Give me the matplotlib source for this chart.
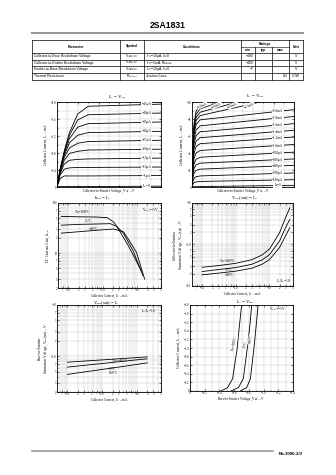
import numpy as np
import matplotlib.pyplot as plt
from matplotlib.ticker import MultipleLocator, FixedLocator, FuncFormatter, NullFormatter

plt.rcParams['font.family'] = ['Liberation Serif', 'DejaVu Serif']
plt.rcParams['mathtext.fontset'] = 'stix'

W, H = 336, 475
SANS = ['Liberation Sans', 'DejaVu Sans']

# ---------------- header table ----------------
title = "2SA1831"
params = ["Collector-to-Base Breakdown Voltage", "Collector-to-Emitter Breakdown Voltage",
          "Emitter-to-Base Breakdown Voltage", "Thermal Resistance"]
symbols = ["V$_{(BR)CBO}$", "V$_{(BR)CEO}$", "V$_{(BR)EBO}$", "R$_{th(j-c)}$"]
conds = ["I$_C$=−10μA, I$_E$=0", "I$_C$=−1mA, R$_{BE}$=∞", "I$_E$=−10μA, I$_C$=0", "Junction-Case"]
r_min = ["−400", "−400", "−7", ""]
r_typ = ["", "", "", ""]
r_max = ["", "", "", "8.3"]
units = ["V", "V", "V", "°C/W"]
footer = "No.3090-2/3"

# ---------------- IC - VCE (small) ----------------
vce1 = [0, 0.3, 0.7, 1.2, 2.0, 3.0, 10]
ic1_curves = [
    [0, 0.42, 0.85, 1.28, 1.72, 1.90, 1.95],
    [0, 0.41, 0.82, 1.22, 1.58, 1.70, 1.74],
    [0, 0.40, 0.79, 1.14, 1.41, 1.49, 1.53],
    [0, 0.39, 0.75, 1.04, 1.22, 1.28, 1.31],
    [0, 0.37, 0.70, 0.92, 1.03, 1.07, 1.10],
    [0, 0.35, 0.63, 0.79, 0.84, 0.87, 0.89],
    [0, 0.32, 0.54, 0.63, 0.65, 0.66, 0.68],
    [0, 0.28, 0.42, 0.45, 0.46, 0.46, 0.47],
    [0, 0.20, 0.26, 0.26, 0.26, 0.26, 0.27],
    [0, 0.01, 0.01, 0.01, 0.01, 0.01, 0.02],
]
ib1_labels = ["−45μA", "−40μA", "−35μA", "−30μA", "−25μA", "−20μA",
              "−15μA", "−10μA", "−5μA", "I$_B$=0"]

# ---------------- IC - VCE (large) ----------------
vce2 = [0, 0.5, 1, 2, 4, 10, 20, 35, 50]
ic2_top = [
    [0, 5.28, 7.49, 8.93, 9.6, 10.24, 11.3, 12.9, 14.5],
    [0, 5.06, 7.18, 8.56, 9.2, 9.69, 10.52, 11.76, 13.0],
    [0, 4.84, 6.86, 8.18, 8.8, 9.19, 9.84, 10.82, 11.8],
    [0, 4.62, 6.55, 7.81, 8.4, 8.73, 9.27, 10.09, 10.9],
]
ib2_top_labels = ["−5.0mA", "−4.0mA", "−3.0mA", "−2.5mA"]
ic2_curves = [
    [0, 4.35, 6.16, 7.35, 7.9, 8.06, 8.32, 8.71, 9.1],
    [0, 3.96, 5.62, 6.70, 7.2, 7.34, 7.58, 7.94, 8.3],
    [0, 3.58, 5.07, 6.05, 6.5, 6.62, 6.83, 7.14, 7.45],
    [0, 3.19, 4.52, 5.39, 5.8, 5.91, 6.10, 6.39, 6.67],
    [0, 2.81, 3.98, 4.74, 5.1, 5.20, 5.37, 5.63, 5.88],
    [0, 2.37, 3.35, 4.00, 4.3, 4.39, 4.54, 4.77, 5.0],
    [0, 1.93, 2.73, 3.26, 3.5, 3.58, 3.71, 3.90, 4.1],
    [0, 1.54, 2.18, 2.60, 2.8, 2.87, 2.97, 3.14, 3.3],
    [0, 1.16, 1.64, 1.95, 2.1, 2.16, 2.26, 2.40, 2.55],
    [0, 0.72, 1.01, 1.21, 1.3, 1.35, 1.42, 1.54, 1.65],
    [0, 0.36, 0.51, 0.60, 0.65, 0.68, 0.72, 0.79, 0.86],
    [0, 0.02, 0.03, 0.04, 0.05, 0.07, 0.10, 0.15, 0.2],
]
ib2_labels = ["−2.0mA", "−1.8mA", "−1.6mA", "−1.4mA", "−1.2mA", "−1.0mA",
              "−800μA", "−600μA", "−400μA", "−200μA", "−100μA", "I$_B$=0"]

# ---------------- hFE - IC ----------------
hfe_ic_100 = [0.062, 0.21, 0.62, 1.34, 2.08, 2.89, 5.58, 13.4]
hfe_100 = [54, 53, 52.5, 51, 42, 30, 14, 4.4]
hfe_ic_25 = [0.062, 0.21, 0.62, 1.67, 2.59, 4.0, 7.75, 15.0]
hfe_25 = [36, 37.4, 38, 38.6, 34, 25, 11, 3.5]
hfe_ic_m40 = [0.062, 0.21, 0.62, 2.08, 4.0, 5.58, 9.66, 16.7]
hfe_m40 = [25, 26.7, 28.4, 30.2, 26.7, 19, 10.3, 3.0]

# ---------------- VCE(sat) - IC ----------------
sat_ic = [0.1, 0.3, 1, 3, 6, 10, 20, 30, 40]
vcesat_100 = [0.283, 0.310, 0.352, 0.431, 0.557, 0.775, 1.93, 4.4, 7.6]
vcesat_25 = [0.223, 0.249, 0.278, 0.334, 0.424, 0.567, 1.22, 2.54, 4.01]
vcesat_m40 = [0.186, 0.204, 0.228, 0.268, 0.334, 0.431, 0.848, 1.61, 2.54]

# ---------------- VBE(sat) - IC ----------------
vbe_ic = [0.1, 1, 10, 20]
vbesat_m40 = [0.765, 0.847, 0.94, 0.97]
vbesat_25 = [0.613, 0.72, 0.85, 0.888]
vbesat_100 = [0.442, 0.552, 0.69, 0.743]

# ---------------- IC - VBE ----------------
vbe_100 = [0.42, 0.511, 0.579, 0.638, 0.670, 0.702]
vbe_25 = [0.556, 0.657, 0.725, 0.775, 0.812, 0.839]
vbe_m40 = [0.684, 0.771, 0.821, 0.866, 0.898, 0.926]
icb = [0, 0.078, 0.288, 0.949, 1.494, 2.0]

log_x_ticks = [0.07, 0.1, 0.2, 0.3, 0.5, 0.7, 1, 2, 3, 5, 7, 10, 20, 30, 50]
log_x_labels = ["7", "−0.1", "2", "3", "5", "7", "−1.0", "2", "3", "5", "7", "−10", "2", "3", "5"]


def box(l, t, r, b):
    return [l / W, 1 - b / H, (r - l) / W, (b - t) / H]


def neg(fmt):
    return FuncFormatter(lambda v, p: "0" if abs(v) < 1e-9 else "−" + format(v, fmt))


def style(ax):
    for s in ax.spines.values():
        s.set_linewidth(0.6)
    ax.tick_params(which='both', direction='in', length=1.2, width=0.4,
                   labelsize=2.2, pad=0.3, top=True, right=True)
    ax.tick_params(which='minor', length=0.7)
    ax.grid(which='both', color='#b4b4b4', lw=0.25)
    ax.set_axisbelow(True)


def lab(ax, x, y, s, rot=0, size=2.6):
    ax.text(x, y, s, fontsize=size, ha='center', va='center', rotation=rot,
            bbox=dict(fc='white', ec='none', pad=0.2))


def note(ax, x, y, s):
    ax.text(x, y, s, transform=ax.transAxes, fontsize=2.6, ha='center', va='center')


def labels(ax, xl, yl):
    ax.set_xlabel(xl, fontsize=2.4, labelpad=0.4)
    ax.set_ylabel(yl, fontsize=2.7, labelpad=0.6)


fig = plt.figure(figsize=(W / 100, H / 100), dpi=100)

# overlay for page elements
ov = fig.add_axes([0, 0, 1, 1])
ov.set_xlim(0, W)
ov.set_ylim(H, 0)
ov.axis('off')
ov.text(168, 26, title, fontsize=6.2, fontweight='bold', ha='center', va='center', family=SANS)
ov.plot([32, 303], [32.5, 32.5], color='#9a9a9a', lw=1.5)

cols = [32, 120, 144, 241, 255, 272, 289, 303]
rows = [40, 53, 59.5, 66, 72.5, 79.5]
for y in rows:
    ov.plot([32, 303], [y, y], color='k', lw=0.5)
ov.plot([241, 289], [47, 47], color='k', lw=0.4)
for x in cols:
    top = 47 if x in (255, 272) else 40
    ov.plot([x, x], [top, 79.5], color='k', lw=0.5)
fs = 2.4
hd = dict(fontsize=fs, ha='center', va='center', family=SANS, fontweight='bold')
ov.text(76, 46.5, "Parameter", **hd)
ov.text(132, 46.5, "Symbol", **hd)
ov.text(192, 46.5, "Conditions", **hd)
ov.text(265, 43.5, "Ratings", **hd)
ov.text(296, 46.5, "Unit", **hd)
for x, s in zip([248, 263.5, 280.5], ["min", "typ", "max"]):
    ov.text(x, 50, s, **hd)
for i in range(len(params)):
    yc = (rows[i + 1] + rows[i + 2]) / 2
    ov.text(34, yc, params[i], fontsize=fs, va='center', family=SANS)
    ov.text(132, yc, symbols[i], fontsize=fs, ha='center', va='center', family=SANS)
    ov.text(146, yc, conds[i], fontsize=fs, va='center', family=SANS)
    ov.text(254, yc, r_min[i], fontsize=fs, ha='right', va='center', family=SANS)
    ov.text(271, yc, r_typ[i], fontsize=fs, ha='right', va='center', family=SANS)
    ov.text(288, yc, r_max[i], fontsize=fs, ha='right', va='center', family=SANS)
    ov.text(296, yc, units[i], fontsize=fs, ha='center', va='center', family=SANS)

ov.plot([32, 273], [450.5, 450.5], color='#9a9a9a', lw=1.2)
ov.text(303, 454, footer, fontsize=3.2, ha='right', va='center', family=SANS, fontweight='bold')

tfs = 3.4

# chart 1
ax = fig.add_axes(box(57, 102, 161, 187))
style(ax)
for c in ic1_curves:
    ax.plot(vce1, c, color='k', lw=0.6)
ax.set_xlim(0, 10)
ax.set_ylim(0, 2.0)
ax.xaxis.set_major_locator(MultipleLocator(2))
ax.xaxis.set_minor_locator(MultipleLocator(1))
ax.yaxis.set_major_locator(MultipleLocator(0.4))
ax.yaxis.set_minor_locator(MultipleLocator(0.2))
ax.tick_params(axis='x', labelbottom=False)
ax.yaxis.set_major_formatter(neg('.1f'))
for c, s in zip(ic1_curves, ib1_labels):
    lab(ax, 8.6, c[-1], s)
labels(ax, "Collector-to-Emitter Voltage, V$_{CE}$ – V", "Collector Current, I$_C$ – mA")
fig.text(117 / W, 1 - 97 / H, "I$_C$ − V$_{CE}$", fontsize=tfs, ha='center', va='center')

# chart 2
ax = fig.add_axes(box(192, 102, 294, 187))
style(ax)
for c in ic2_top + ic2_curves:
    ax.plot(vce2, c, color='k', lw=0.6)
ax.set_xlim(0, 50)
ax.set_ylim(0, 10)
ax.xaxis.set_major_locator(MultipleLocator(10))
ax.xaxis.set_minor_locator(MultipleLocator(5))
ax.yaxis.set_major_locator(MultipleLocator(2))
ax.yaxis.set_minor_locator(MultipleLocator(1))
ax.tick_params(axis='x', labelbottom=False)
ax.yaxis.set_major_formatter(neg('g'))
for c, s in zip(ic2_curves, ib2_labels):
    lab(ax, 42, np.interp(42, vce2, c), s, size=2.4)
for x, s in zip([5, 12, 20, 28], ib2_top_labels):
    lab(ax, x, 9.6, s, rot=25, size=2.3)
labels(ax, "Collector-to-Emitter Voltage, V$_{CE}$ – V", "Collector Current, I$_C$ – mA")
fig.text(255 / W, 1 - 96.5 / H, "I$_C$ − V$_{CE}$", fontsize=tfs, ha='center', va='center')


def logx(ax):
    ax.set_xscale('log')
    ax.set_xlim(0.05, 50)
    ax.xaxis.set_major_locator(FixedLocator(log_x_ticks))
    ax.set_xticklabels(log_x_labels)
    ax.xaxis.set_minor_locator(FixedLocator([0.06, 0.08, 0.09, 0.4, 0.6, 0.8, 0.9, 4, 6, 8, 9, 40]))
    ax.xaxis.set_minor_formatter(NullFormatter())


# chart 3 hFE
ax = fig.add_axes(box(58, 203, 161, 288))
ax.set_yscale('log')
logx(ax)
style(ax)
ax.plot(hfe_ic_100, hfe_100, color='k', lw=0.6)
ax.plot(hfe_ic_25, hfe_25, color='k', lw=0.6)
ax.plot(hfe_ic_m40, hfe_m40, color='k', lw=0.6)
ax.set_ylim(2, 100)
ax.yaxis.set_major_locator(FixedLocator([2, 3, 5, 7, 10, 20, 30, 50, 70, 100]))
ax.set_yticklabels(["2", "3", "5", "7", "10", "2", "3", "5", "7", "100"])
ax.yaxis.set_minor_locator(FixedLocator([4, 6, 8, 9, 40, 60, 80, 90]))
ax.yaxis.set_minor_formatter(NullFormatter())
note(ax, 0.24, 0.895, "Ta=100°C")
note(ax, 0.3, 0.79, "25°C")
note(ax, 0.35, 0.69, "−40°C")
note(ax, 0.9, 0.92, "V$_{CE}$=−5V")
labels(ax, "Collector Current, I$_C$ – mA", "DC Current Gain, h$_{FE}$")
fig.text(103 / W, 1 - 198.5 / H, "h$_{FE}$ − I$_C$", fontsize=tfs, ha='center', va='center')

# chart 4 VCE(sat)
ax = fig.add_axes(box(192, 203, 293, 286))
ax.set_yscale('log')
logx(ax)
style(ax)
ax.plot(sat_ic, vcesat_100, color='k', lw=0.6)
ax.plot(sat_ic, vcesat_25, color='k', lw=0.6)
ax.plot(sat_ic, vcesat_m40, color='k', lw=0.6)
ax.set_ylim(0.1, 10)
ax.yaxis.set_major_locator(FixedLocator([0.1, 0.2, 0.3, 0.5, 0.7, 1, 2, 3, 5, 7, 10]))
ax.set_yticklabels(["−0.1", "2", "3", "5", "7", "−1.0", "2", "3", "5", "7", "−10"])
ax.yaxis.set_minor_locator(FixedLocator([0.4, 0.6, 0.8, 0.9, 4, 6, 8, 9]))
ax.yaxis.set_minor_formatter(NullFormatter())
note(ax, 0.35, 0.3, "Ta=100°C")
note(ax, 0.36, 0.19, "25°C")
note(ax, 0.37, 0.13, "−40°C")
note(ax, 0.9, 0.06, "I$_C$/I$_B$=10")
labels(ax, "Collector Current, I$_C$ – mA", "Collector-to-Emitter\nSaturation Voltage, V$_{CE}$(sat) – V")
fig.text(245 / W, 1 - 198.5 / H, "V$_{CE}$(sat) − I$_C$", fontsize=tfs, ha='center', va='center')

# chart 5 VBE(sat)
ax = fig.add_axes(box(57, 305, 161, 392))
ax.set_yscale('log')
logx(ax)
style(ax)
ax.plot(vbe_ic, vbesat_m40, color='k', lw=0.6)
ax.plot(vbe_ic, vbesat_25, color='k', lw=0.6)
ax.plot(vbe_ic, vbesat_100, color='k', lw=0.6)
ax.set_ylim(0.2, 10)
ax.yaxis.set_major_locator(FixedLocator([0.2, 0.3, 0.5, 0.7, 1, 2, 3, 5, 7, 10]))
ax.set_yticklabels(["2", "3", "5", "7", "−1.0", "2", "3", "5", "7", "−10"])
ax.yaxis.set_minor_locator(FixedLocator([0.4, 0.6, 0.8, 0.9, 4, 6, 8, 9]))
ax.yaxis.set_minor_formatter(NullFormatter())
note(ax, 0.6, 0.36, "Ta=−40°C")
note(ax, 0.53, 0.27, "25°C")
note(ax, 0.54, 0.22, "100°C")
note(ax, 0.88, 0.93, "I$_C$/I$_B$=10")
labels(ax, "Collector Current, I$_C$ – mA", "Base-to-Emitter\nSaturation Voltage, V$_{BE}$(sat) – V")
fig.text(107 / W, 1 - 302.6 / H, "V$_{BE}$(sat) − I$_C$", fontsize=tfs, ha='center', va='center')

# chart 6 IC - VBE
ax = fig.add_axes(box(190, 305, 293, 391))
style(ax)
ax.plot(vbe_100, icb, color='k', lw=0.6)
ax.plot(vbe_25, icb, color='k', lw=0.6)
ax.plot(vbe_m40, icb, color='k', lw=0.6)
ax.set_xlim(0, 1.4)
ax.set_ylim(0, 2.0)
ax.xaxis.set_major_locator(MultipleLocator(0.2))
ax.xaxis.set_minor_locator(MultipleLocator(0.1))
ax.yaxis.set_major_locator(MultipleLocator(0.2))
ax.xaxis.set_major_formatter(neg('.1f'))
ax.yaxis.set_major_formatter(neg('.1f'))
lab(ax, 0.6, 1.1, "Ta=100°C", rot=78)
lab(ax, 0.75, 1.1, "25°C", rot=78)
lab(ax, 0.82, 1.2, "−40°C", rot=78)
note(ax, 0.85, 0.95, "V$_{CE}$=−5V")
labels(ax, "Base-to-Emitter Voltage, V$_{BE}$ – V", "Collector Current, I$_C$ – mA")
fig.text(245 / W, 1 - 302.6 / H, "I$_C$ − V$_{BE}$", fontsize=tfs, ha='center', va='center')

fig.savefig("out.png", dpi=100)
